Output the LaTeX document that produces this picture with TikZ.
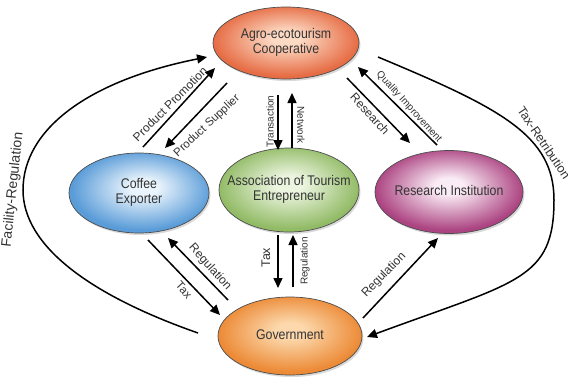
\documentclass[tikz,border=0pt]{standalone}
\usepackage{fontspec}
\setmainfont{Liberation Sans}
\newfontfamily\nodefont[FakeStretch=0.88]{Liberation Sans}
\usetikzlibrary{shapes.geometric,arrows.meta,calc,shadows}

\definecolor{agroIn}{RGB}{252,218,196}
\definecolor{agroOut}{RGB}{230,108,68}
\definecolor{cofIn}{RGB}{234,244,252}
\definecolor{cofOut}{RGB}{90,156,216}
\definecolor{assIn}{RGB}{236,245,224}
\definecolor{assOut}{RGB}{146,187,102}
\definecolor{resIn}{RGB}{250,236,245}
\definecolor{resOut}{RGB}{172,68,130}
\definecolor{govIn}{RGB}{252,216,172}
\definecolor{govOut}{RGB}{236,138,54}

\pgfdeclareradialshading{agroShade}{\pgfpoint{0bp}{4bp}}{color(0bp)=(agroIn); color(5bp)=(agroIn); color(25bp)=(agroOut); color(50bp)=(agroOut)}
\pgfdeclareradialshading{cofShade}{\pgfpoint{2bp}{4bp}}{color(0bp)=(cofIn); color(5bp)=(cofIn); color(25bp)=(cofOut); color(50bp)=(cofOut)}
\pgfdeclareradialshading{assShade}{\pgfpoint{0bp}{4bp}}{color(0bp)=(assIn); color(5bp)=(assIn); color(25bp)=(assOut); color(50bp)=(assOut)}
\pgfdeclareradialshading{resShade}{\pgfpoint{0bp}{4bp}}{color(0bp)=(resIn); color(5bp)=(resIn); color(25bp)=(resOut); color(50bp)=(resOut)}
\pgfdeclareradialshading{govShade}{\pgfpoint{0bp}{4bp}}{color(0bp)=(govIn); color(5bp)=(govIn); color(25bp)=(govOut); color(50bp)=(govOut)}

% centred text that does not widen the ellipse
\newcommand\elltext[2][0pt]{\makebox[0pt]{\raisebox{#1}{\begin{tabular}{@{}c@{}}#2\end{tabular}}}}

\tikzset{
  ell/.style={ellipse, shade, draw=black!70, line width=0.7pt, inner sep=0pt,
    text=black!80,
    font=\nodefont\fontsize{14}{15.5}\selectfont,
    drop shadow={shadow xshift=1.5pt, shadow yshift=-2pt, fill=black, opacity=0.15}},
  arr/.style={line width=1.5pt, -{Triangle[length=10pt,width=9pt]}},
  lab/.style={inner sep=0pt, text=black!80},
  fs/.style={font=\fontsize{#1}{#1}\selectfont}
}

\begin{document}
\begin{tikzpicture}[x=1pt,y=-1pt]
\fill[white] (0,0) rectangle (571,376);
\useasboundingbox (0,0) rectangle (571,376);

\node[ell, shading=agroShade, minimum width=146pt, minimum height=72pt] (agro) at (286,43) {\elltext[1pt]{Agro-ecotourism\\Cooperative}};
\node[ell, shading=cofShade, minimum width=140pt, minimum height=80pt] (coffee) at (139,193) {\elltext[-2pt]{Coffee\\Exporter}};
\node[ell, shading=assShade, minimum width=140pt, minimum height=84pt] (assoc) at (289,190) {\elltext[-4pt]{Association of Tourism\\Entrepreneur}};
\node[ell, shading=resShade, minimum width=148pt, minimum height=83pt] (research) at (449,192) {\elltext{Research Institution}};
\node[ell, shading=govShade, minimum width=144pt, minimum height=78pt] (gov) at (290,336) {\elltext{Government}};

% straight connectors
\draw[arr] ($(coffee)+(4,-46)$) -- ($(agro)+(-71,25)$);
\draw[arr] ($(agro)+(-59,40)$) -- ($(coffee)+(26,-45)$);
\draw[arr] ($(agro)+(-8,52)$) -- ($(assoc)+(-11,-40)$);
\draw[arr] ($(assoc)+(3,-42)$) -- ($(agro)+(6,50)$);
\draw[arr] ($(agro)+(61,35)$) -- ($(research)+(-39,-49)$);
\draw[arr] ($(research)+(-12,-47)$) -- ($(agro)+(72,24)$);
\draw[arr] ($(gov)+(-62,-36)$) -- ($(coffee)+(29,45)$);
\draw[arr] ($(coffee)+(9,47)$) -- ($(gov)+(-70,-21)$);
\draw[arr] ($(assoc)+(-11,45)$) -- ($(gov)+(-12,-48)$);
\draw[arr] ($(gov)+(3,-49)$) -- ($(assoc)+(4,45)$);
\draw[arr] ($(gov)+(73,-18)$) -- ($(research)+(-11,46)$);

% curved connectors
\coordinate (leftmost) at (23,190);
\coordinate (rightmost) at (554,200);
\draw[arr] ($(gov)+(-92,-3)$) .. controls (88,294.5) and (23,245) .. (leftmost)
  .. controls (23,130) and (87,81) .. ($(agro)+(-79,14)$);
\draw[arr] ($(agro)+(92,14)$) .. controls (500,108) and (554,135) .. (rightmost)
  .. controls (554,280) and (517,281.5) .. ($(gov)+(77,1)$);

% labels
\node[lab, fs=14, rotate=84] (lFR) at (13,190) {Facility-Regulation};
\node[lab, fs=12.5, rotate=-56] (lTR) at (544,143) {Tax-Retribution};
\node[lab, fs=12, rotate=45] (lPP) at (170,104) {Product Promotion};
\node[lab, fs=11.5, rotate=43] (lPS) at (207,126) {Product Supplier};
\node[lab, fs=10, rotate=90] (lTr) at (270,121.5) {Transaction};
\node[lab, fs=10, rotate=-90] (lNw) at (301,125) {Network};
\node[lab, fs=12, rotate=-48] (lRs) at (370,114) {Research};
\node[lab, fs=10, rotate=-48] (lQI) at (409,107) {Quality Improvement};
\node[lab, fs=12, rotate=-48] (lRC) at (210,267) {Regulation};
\node[lab, fs=11.5, rotate=-48] (lTC) at (184,290) {Tax};
\node[lab, fs=12.5, rotate=90] (lTA) at (266,257.5) {Tax};
\node[lab, fs=10, rotate=90] (lRA) at (305,261) {Regulation};
\node[lab, fs=12, rotate=46] (lRR) at (384,275) {Regulation};
\end{tikzpicture}
\end{document}
